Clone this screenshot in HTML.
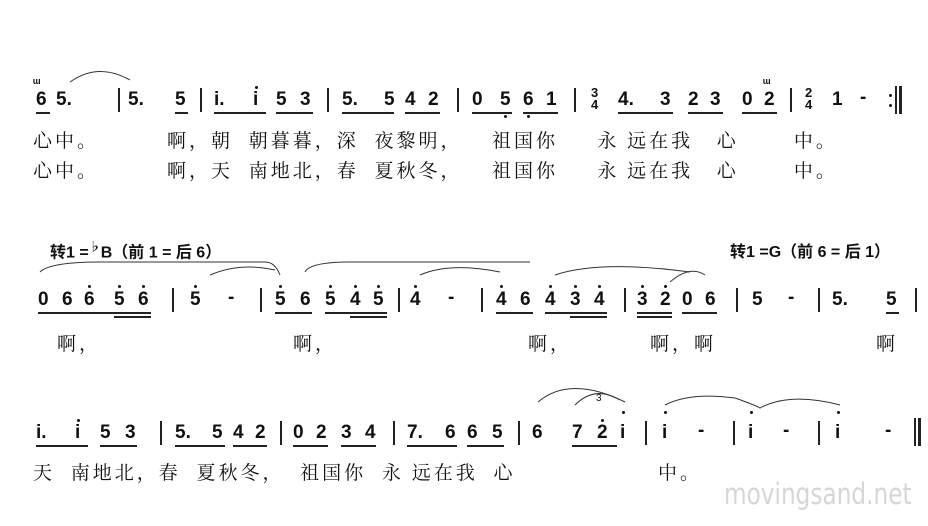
<!DOCTYPE html>
<html><head><meta charset="utf-8"><style>
body{margin:0;width:928px;height:526px;background:#fff;position:relative;overflow:hidden;font-family:"Liberation Sans","Noto Sans CJK SC",sans-serif;color:#111}
.n{position:absolute;font-weight:bold;font-size:19px;line-height:20px}
.l{position:absolute;font-family:"Noto Serif CJK SC","Noto Sans CJK SC",serif;font-size:19px;line-height:20px;white-space:pre;letter-spacing:3px}
.b{position:absolute;width:2px;height:24px;background:#222}
.u{position:absolute;height:1.5px;background:#222}
.d{position:absolute;width:3px;height:3px;border-radius:50%;background:#111}
.k{position:absolute;font-weight:bold;font-size:16px;white-space:pre}
.f{position:absolute;font-weight:bold;font-size:13px;line-height:12px;text-align:center}
</style></head><body>
<svg width="928" height="526" style="position:absolute;left:0;top:0" fill="none" stroke="#333" stroke-width="1">
<path d="M70 82 Q98 62 130 80"/>
<path d="M40 272 Q50 262 100 262 L265 262 Q275 262 280 275"/>
<path d="M210 275 Q240 262 275 270"/>
<path d="M305 272 Q310 262 350 262 L500 262"/>
<path d="M420 275 Q450 262 500 272"/>
<path d="M500 262 L530 262"/>
<path d="M555 275 Q600 260 690 272"/>
<path d="M670 282 Q690 265 705 275"/>
<path d="M538 402 Q570 375 625 402"/>
<path d="M575 405 Q595 385 620 400"/>
<path d="M665 405 Q690 392 735 398 Q755 405 760 408 Q790 392 840 405"/>
</svg>
<!-- row 1 -->
<div class="f" style="left:33px;top:77px">ᵚ</div>
<div class="n" style="left:36px;top:90px">6</div><div class="u" style="left:36px;top:112px;width:14px"></div>
<div class="n" style="left:56px;top:90px">5.</div>
<div class="b" style="left:118px;top:88px"></div>
<div class="n" style="left:128px;top:90px">5.</div>
<div class="n" style="left:175px;top:90px">5</div><div class="u" style="left:175px;top:112px;width:13px"></div>
<div class="b" style="left:200px;top:88px"></div>
<div class="n" style="left:214px;top:90px">i.</div><div class="n" style="left:253px;top:90px">i</div><div class="d" style="left:255px;top:86px"></div>
<div class="n" style="left:276px;top:90px">5</div><div class="n" style="left:300px;top:90px">3</div>
<div class="u" style="left:214px;top:112px;width:52px"></div><div class="u" style="left:276px;top:112px;width:37px"></div>
<div class="b" style="left:327px;top:88px"></div>
<div class="n" style="left:342px;top:90px">5.</div><div class="n" style="left:384px;top:90px">5</div><div class="n" style="left:405px;top:90px">4</div><div class="n" style="left:428px;top:90px">2</div>
<div class="u" style="left:342px;top:112px;width:52px"></div><div class="u" style="left:405px;top:112px;width:35px"></div>
<div class="b" style="left:457px;top:88px"></div>
<div class="n" style="left:472px;top:90px">0</div><div class="n" style="left:500px;top:90px">5</div><div class="n" style="left:523px;top:90px">6</div><div class="n" style="left:546px;top:90px">1</div>
<div class="u" style="left:472px;top:112px;width:40px"></div><div class="u" style="left:523px;top:112px;width:35px"></div>
<div class="d" style="left:504px;top:115px"></div><div class="d" style="left:527px;top:115px"></div>
<div class="b" style="left:574px;top:88px"></div>
<div class="f" style="left:591px;top:87px">3<br>4</div>
<div class="n" style="left:618px;top:90px">4.</div><div class="n" style="left:660px;top:90px">3</div><div class="n" style="left:688px;top:90px">2</div><div class="n" style="left:710px;top:90px">3</div><div class="n" style="left:742px;top:90px">0</div><div class="n" style="left:764px;top:90px">2</div>
<div class="u" style="left:618px;top:112px;width:55px"></div><div class="u" style="left:688px;top:112px;width:35px"></div><div class="u" style="left:742px;top:112px;width:35px"></div>
<div class="f" style="left:763px;top:77px">ᵚ</div>
<div class="b" style="left:790px;top:88px"></div>
<div class="f" style="left:805px;top:87px">2<br>4</div>
<div class="n" style="left:832px;top:90px">1</div><div class="n" style="left:860px;top:88px">-</div>
<div class="d" style="left:889px;top:94px"></div><div class="d" style="left:889px;top:104px"></div>
<div class="b" style="left:895px;top:86px;height:28px"></div><div class="b" style="left:899px;top:86px;height:28px;width:3px"></div>
<div class="l" style="left:33px;top:130px">心中。</div>
<div class="l" style="left:167px;top:130px">啊，朝  朝暮暮，深  夜黎明，</div>
<div class="l" style="left:492px;top:130px">祖国你     永 远在我   心       中。</div>
<div class="l" style="left:33px;top:160px">心中。</div>
<div class="l" style="left:167px;top:160px">啊，天  南地北，春  夏秋冬，</div>
<div class="l" style="left:492px;top:160px">祖国你     永 远在我   心       中。</div>
<!-- row 2 -->
<div class="k" style="left:50px;top:238px">转1 =<sup style="font-size:12px">♭</sup>B（前 1 = 后 6）</div>
<div class="k" style="left:730px;top:238px">转1 =G（前 6 = 后 1）</div>
<div class="n" style="left:38px;top:290px">0</div><div class="n" style="left:62px;top:290px">6</div><div class="n" style="left:84px;top:290px">6</div><div class="n" style="left:114px;top:290px">5</div><div class="n" style="left:138px;top:290px">6</div>
<div class="d" style="left:88px;top:285px"></div><div class="d" style="left:118px;top:285px"></div><div class="d" style="left:142px;top:285px"></div>
<div class="u" style="left:38px;top:312px;width:113px"></div><div class="u" style="left:114px;top:316px;width:37px"></div>
<div class="b" style="left:172px;top:288px"></div>
<div class="n" style="left:190px;top:290px">5</div><div class="d" style="left:194px;top:285px"></div><div class="n" style="left:228px;top:288px">-</div>
<div class="b" style="left:260px;top:288px"></div>
<div class="n" style="left:275px;top:290px">5</div><div class="n" style="left:300px;top:290px">6</div><div class="n" style="left:325px;top:290px">5</div><div class="n" style="left:350px;top:290px">4</div><div class="n" style="left:373px;top:290px">5</div>
<div class="d" style="left:279px;top:285px"></div><div class="d" style="left:329px;top:285px"></div><div class="d" style="left:354px;top:285px"></div><div class="d" style="left:377px;top:285px"></div>
<div class="u" style="left:275px;top:312px;width:37px"></div><div class="u" style="left:325px;top:312px;width:62px"></div><div class="u" style="left:350px;top:316px;width:37px"></div>
<div class="b" style="left:398px;top:288px"></div>
<div class="n" style="left:410px;top:290px">4</div><div class="d" style="left:414px;top:285px"></div><div class="n" style="left:448px;top:288px">-</div>
<div class="b" style="left:481px;top:288px"></div>
<div class="n" style="left:496px;top:290px">4</div><div class="n" style="left:520px;top:290px">6</div><div class="n" style="left:545px;top:290px">4</div><div class="n" style="left:570px;top:290px">3</div><div class="n" style="left:594px;top:290px">4</div>
<div class="d" style="left:500px;top:285px"></div><div class="d" style="left:549px;top:285px"></div><div class="d" style="left:574px;top:285px"></div><div class="d" style="left:598px;top:285px"></div>
<div class="u" style="left:496px;top:312px;width:37px"></div><div class="u" style="left:545px;top:312px;width:62px"></div><div class="u" style="left:570px;top:316px;width:37px"></div>
<div class="b" style="left:624px;top:288px"></div>
<div class="n" style="left:637px;top:290px">3</div><div class="n" style="left:660px;top:290px">2</div><div class="n" style="left:682px;top:290px">0</div><div class="n" style="left:705px;top:290px">6</div>
<div class="d" style="left:641px;top:285px"></div><div class="d" style="left:664px;top:285px"></div>
<div class="u" style="left:637px;top:312px;width:35px"></div><div class="u" style="left:682px;top:312px;width:35px"></div><div class="u" style="left:637px;top:316px;width:35px"></div>
<div class="b" style="left:736px;top:288px"></div>
<div class="n" style="left:752px;top:290px">5</div><div class="n" style="left:788px;top:288px">-</div>
<div class="b" style="left:818px;top:288px"></div>
<div class="n" style="left:832px;top:290px">5.</div><div class="n" style="left:886px;top:290px">5</div><div class="u" style="left:886px;top:312px;width:13px"></div>
<div class="b" style="left:915px;top:288px"></div>
<div class="l" style="left:57px;top:333px">啊，</div>
<div class="l" style="left:293px;top:333px">啊，</div>
<div class="l" style="left:528px;top:333px">啊，</div>
<div class="l" style="left:650px;top:333px">啊，啊</div>
<div class="l" style="left:876px;top:333px">啊</div>
<!-- row 3 -->
<div class="n" style="left:36px;top:423px">i.</div><div class="n" style="left:75px;top:423px">i</div><div class="d" style="left:77px;top:419px"></div><div class="n" style="left:100px;top:423px">5</div><div class="n" style="left:125px;top:423px">3</div>
<div class="u" style="left:36px;top:445px;width:52px"></div><div class="u" style="left:100px;top:445px;width:37px"></div>
<div class="b" style="left:160px;top:421px"></div>
<div class="n" style="left:175px;top:423px">5.</div><div class="n" style="left:212px;top:423px">5</div><div class="n" style="left:233px;top:423px">4</div><div class="n" style="left:255px;top:423px">2</div>
<div class="u" style="left:175px;top:445px;width:50px"></div><div class="u" style="left:233px;top:445px;width:34px"></div>
<div class="b" style="left:280px;top:421px"></div>
<div class="n" style="left:293px;top:423px">0</div><div class="n" style="left:316px;top:423px">2</div><div class="n" style="left:341px;top:423px">3</div><div class="n" style="left:365px;top:423px">4</div>
<div class="u" style="left:293px;top:445px;width:35px"></div><div class="u" style="left:341px;top:445px;width:35px"></div>
<div class="b" style="left:393px;top:421px"></div>
<div class="n" style="left:407px;top:423px">7.</div><div class="n" style="left:445px;top:423px">6</div><div class="n" style="left:467px;top:423px">6</div><div class="n" style="left:492px;top:423px">5</div>
<div class="u" style="left:407px;top:445px;width:50px"></div><div class="u" style="left:467px;top:445px;width:37px"></div>
<div class="b" style="left:518px;top:421px"></div>
<div class="n" style="left:532px;top:423px">6</div><div class="n" style="left:572px;top:423px">7</div><div class="n" style="left:597px;top:423px">2</div><div class="n" style="left:620px;top:423px">i</div>
<div class="d" style="left:601px;top:419px"></div><div class="d" style="left:622px;top:411px"></div>
<div class="u" style="left:572px;top:445px;width:45px"></div>
<div style="position:absolute;left:596px;top:393px;font-size:10px">3</div>
<div class="b" style="left:645px;top:421px"></div>
<div class="n" style="left:662px;top:423px">i</div><div class="d" style="left:664px;top:411px"></div><div class="n" style="left:698px;top:421px">-</div>
<div class="b" style="left:733px;top:421px"></div>
<div class="n" style="left:748px;top:423px">i</div><div class="d" style="left:750px;top:411px"></div><div class="n" style="left:783px;top:421px">-</div>
<div class="b" style="left:818px;top:421px"></div>
<div class="n" style="left:835px;top:423px">i</div><div class="d" style="left:837px;top:411px"></div><div class="n" style="left:885px;top:421px">-</div>
<div class="b" style="left:914px;top:418px;height:28px;width:2px"></div><div class="b" style="left:918px;top:418px;height:28px;width:3px"></div>
<div class="l" style="left:33px;top:462px">天  南地北，春  夏秋冬，  祖国你  永 远在我  心</div>
<div class="l" style="left:658px;top:462px">中。</div>
<div style="position:absolute;left:724px;top:478px;display:inline-block;white-space:nowrap;font-family:'DejaVu Sans',sans-serif;font-size:29px;line-height:32px;color:#d6d6d6;transform:scaleX(0.8);transform-origin:left top">movingsand.net</div>
</body></html>
